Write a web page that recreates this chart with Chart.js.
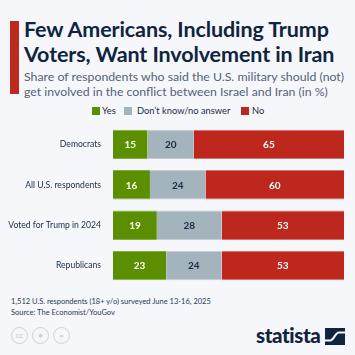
<!DOCTYPE html>
<html><head><meta charset="utf-8">
<script src="https://cdn.jsdelivr.net/npm/chart.js@4"></script>
<style>
html,body{margin:0;padding:0;background:#f5f7fa;}
#wrap{position:relative;width:355px;height:355px;overflow:hidden;background:#f5f7fa;font-family:Lato,sans-serif;}
#accent{position:absolute;left:10px;top:21px;width:9px;height:73px;background:#be2a1e;}
#title{position:absolute;left:24px;top:17px;width:335px;font-weight:700;font-size:21.5px;line-height:25px;color:#0f2440;white-space:nowrap;letter-spacing:-0.1px;}
#sub{position:absolute;left:24px;top:69px;width:335px;font-size:12.3px;line-height:15px;color:#56627a;white-space:nowrap;}
#legend{position:absolute;top:104px;left:0;width:355px;height:14px;font-size:9.3px;color:#1a2b45;}
.li{position:absolute;top:0;line-height:13px;white-space:nowrap;}
.sw{position:absolute;top:3px;width:8px;height:8px;}
#cv{position:absolute;left:0;top:115px;}
#foot{position:absolute;left:11px;top:296px;font-size:7.5px;line-height:11px;color:#2a3a55;white-space:nowrap;}
.cc{position:absolute;top:327px;width:15px;height:15px;border:1.5px solid #c9d3dc;border-radius:50%;color:#c9d3dc;font-size:7.5px;font-weight:900;text-align:center;line-height:15px;}
#logo{position:absolute;left:256px;top:323px;font-weight:900;font-size:20.5px;color:#0f2440;letter-spacing:-0.4px;}
</style></head><body>
<div id="wrap">
<div id="accent"></div>
<div id="title">Few Americans, Including Trump<br>Voters, Want Involvement in Iran</div>
<div id="sub">Share of respondents who said the U.S. military should (not)<br>get involved in the conflict between Israel and Iran (in %)</div>
<div id="legend">
 <div class="sw" style="left:92px;background:#5b8f00"></div><div class="li" style="left:102px">Yes</div>
 <div class="sw" style="left:124px;background:#a5b5be"></div><div class="li" style="left:137px">Don’t know/no answer</div>
 <div class="sw" style="left:241px;background:#be271d"></div><div class="li" style="left:252px">No</div>
</div>
<canvas id="cv" width="355" height="180"></canvas>
<div id="foot">1,512 U.S. respondents (18+ y/o) surveyed June 13-16, 2025<br>Source: The Economist/YouGov</div>
<div class="cc" style="left:11px">cc</div>
<div class="cc" style="left:32px">&#9679;</div>
<div class="cc" style="left:53px">=</div>
<div id="logo">statista</div>
<svg style="position:absolute;left:325px;top:328px" width="20" height="17" viewBox="0 0 20 17">
<rect x="0" y="0" width="20" height="17" fill="#0f2440"/>
<path d="M-1 12.5 L5 12.5 C9 12.5 10 4.5 14 4.5 L21 4.5" stroke="#f5f7fa" stroke-width="2.2" fill="none"/>
</svg>
</div>
<script>
const categories = ["Democrats","All U.S. respondents","Voted for Trump in 2024","Republicans"];
const yesVals = [15,16,19,23];
const dkVals = [20,24,28,24];
const noVals = [65,60,53,53];
const seriesNames = ["Yes","Don't know/no answer","No"];

const labelPlugin = {
  id:'lbl',
  afterDatasetsDraw(chart){
    const ctx = chart.ctx;
    ctx.save();
    ctx.font = '700 10px Lato, sans-serif';
    ctx.textAlign='center'; ctx.textBaseline='middle';
    chart.data.datasets.forEach((ds,i)=>{
      const meta = chart.getDatasetMeta(i);
      meta.data.forEach((bar,j)=>{
        const cx = (bar.x + bar.base)/2;
        ctx.fillStyle = ds.labelColor;
        ctx.fillText(String(ds.data[j]), cx, bar.y+0.5);
      });
    });
    ctx.restore();
  }
};

new Chart(document.getElementById('cv'),{
  type:'bar',
  data:{
    labels:categories,
    datasets:[
      {label:seriesNames[0],data:yesVals,backgroundColor:'#5b8f00',borderColor:'#86ab4a',labelColor:'#ffffff'},
      {label:seriesNames[1],data:dkVals,backgroundColor:'#a3b4bd',borderColor:'#c2ced4',labelColor:'#1a2b45'},
      {label:seriesNames[2],data:noVals,backgroundColor:'#bd271d',borderColor:'#d5756e',labelColor:'#ffffff'}
    ]
  },
  options:{
    indexAxis:'y',
    responsive:false,
    animation:false,
    devicePixelRatio:1,
    layout:{padding:{top:5,bottom:4,right:11,left:0}},
    datasets:{bar:{barPercentage:0.727,categoryPercentage:1,borderWidth:{top:1,bottom:1,left:0,right:0},borderSkipped:false}},
    plugins:{legend:{display:false},tooltip:{enabled:false}},
    scales:{
      x:{stacked:true,min:0,max:100,display:false},
      y:{stacked:true,grid:{display:false},border:{display:false},
         ticks:{color:'#1a2b45',font:{family:'Lato',size:8.6},padding:4},
         afterFit(s){s.width=113;}}
    }
  },
  plugins:[labelPlugin]
});
</script>
</body></html>
